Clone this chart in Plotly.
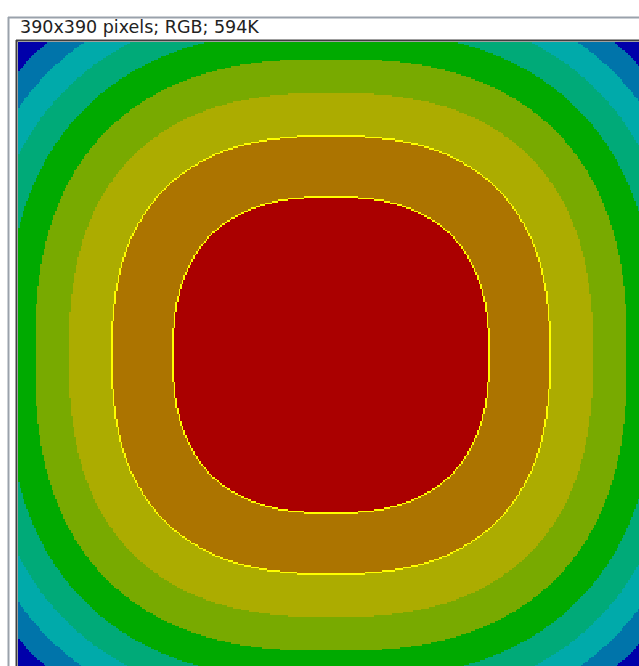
import numpy as np
import plotly.graph_objects as go

# ---- data ----
title_text = "390x390 pixels; RGB; 594K"
image_size = 390                      # source image is 390 x 390 pixels
# band boundaries, as radius (in image pixels) along the central axes, inner -> outer
band_boundaries = [99.0, 137.0, 163.2, 184.4, 202.5, 218.1, 232.4, 245.5]
shape_exponent = 2.5                  # rounded-square (superellipse) contour shape
band_colors = ["#aa0000", "#ac7400", "#acac00", "#78aa00", "#00aa00",
               "#00aa78", "#00aaaa", "#0074aa", "#0000aa"]
outlined_boundaries = [0, 1]          # boundaries drawn with a yellow line
line_color = "#ffff00"

# ---- build the field ----
n = image_size
c = np.arange(n) + 0.5 - n / 2.0
dx, dy = np.meshgrid(c, c)
r_eff = (np.abs(dx) ** shape_exponent + np.abs(dy) ** shape_exponent) ** (1.0 / shape_exponent)
band = np.zeros((n, n), dtype=int)
for b in band_boundaries:
    band += (r_eff >= b).astype(int)

z = band.astype(float)
yellow_idx = len(band_colors)
for k in outlined_boundaries:
    inner = band == k
    nb = np.zeros_like(inner)
    outer = band == k + 1
    nb[1:, :] |= outer[:-1, :]
    nb[:-1, :] |= outer[1:, :]
    nb[:, 1:] |= outer[:, :-1]
    nb[:, :-1] |= outer[:, 1:]
    z[inner & nb] = yellow_idx

all_colors = band_colors + [line_color]
m = len(all_colors)
colorscale = []
for i, col in enumerate(all_colors):
    colorscale.append([i / m, col])
    colorscale.append([(i + 1) / m, col])

# ---- layout geometry (screen pixels) ----
W, H = 639, 666
L, T = 18, 42
scale = 1.605
pw, ph = W - L, H - T

def px(x):
    return (x - L) / pw

def py(y):
    return 1 - (y - T) / ph

fig = go.Figure(go.Heatmap(
    z=z, x=np.arange(n) + 0.5, y=np.arange(n) + 0.5,
    colorscale=colorscale, zmin=-0.5, zmax=m - 0.5,
    showscale=False, hoverinfo="skip", zsmooth=False))

fig.update_layout(
    width=W, height=H,
    margin=dict(l=L, r=0, t=T, b=0, pad=0),
    paper_bgcolor="white", plot_bgcolor="white",
    xaxis=dict(range=[0, pw / scale], visible=False, fixedrange=True),
    yaxis=dict(range=[ph / scale, 0], visible=False, fixedrange=True),
    shapes=[
        dict(type="line", xref="paper", yref="paper", x0=px(8.5), x1=px(8.5),
             y0=py(17), y1=py(H + 2), line=dict(color="#9aa2ab", width=2)),
        dict(type="line", xref="paper", yref="paper", x0=px(8), x1=px(W + 2),
             y0=py(17.5), y1=py(17.5), line=dict(color="#9aa2ab", width=2)),
        dict(type="line", xref="paper", yref="paper", x0=px(16.5), x1=px(16.5),
             y0=py(40), y1=py(H + 2), line=dict(color="#404040", width=2)),
        dict(type="line", xref="paper", yref="paper", x0=px(16), x1=px(W + 2),
             y0=py(40.5), y1=py(40.5), line=dict(color="#404040", width=2)),
    ],
    annotations=[dict(text=title_text, xref="paper", yref="paper",
                      x=px(18), y=py(27.5), xanchor="left", yanchor="middle",
                      showarrow=False, font=dict(family="DejaVu Sans", size=17.5, color="#222222"))],
)

fig.write_html("out.html", config={"displayModeBar": False},
               post_script="document.body.style.margin='0';document.body.style.overflow='hidden';")
